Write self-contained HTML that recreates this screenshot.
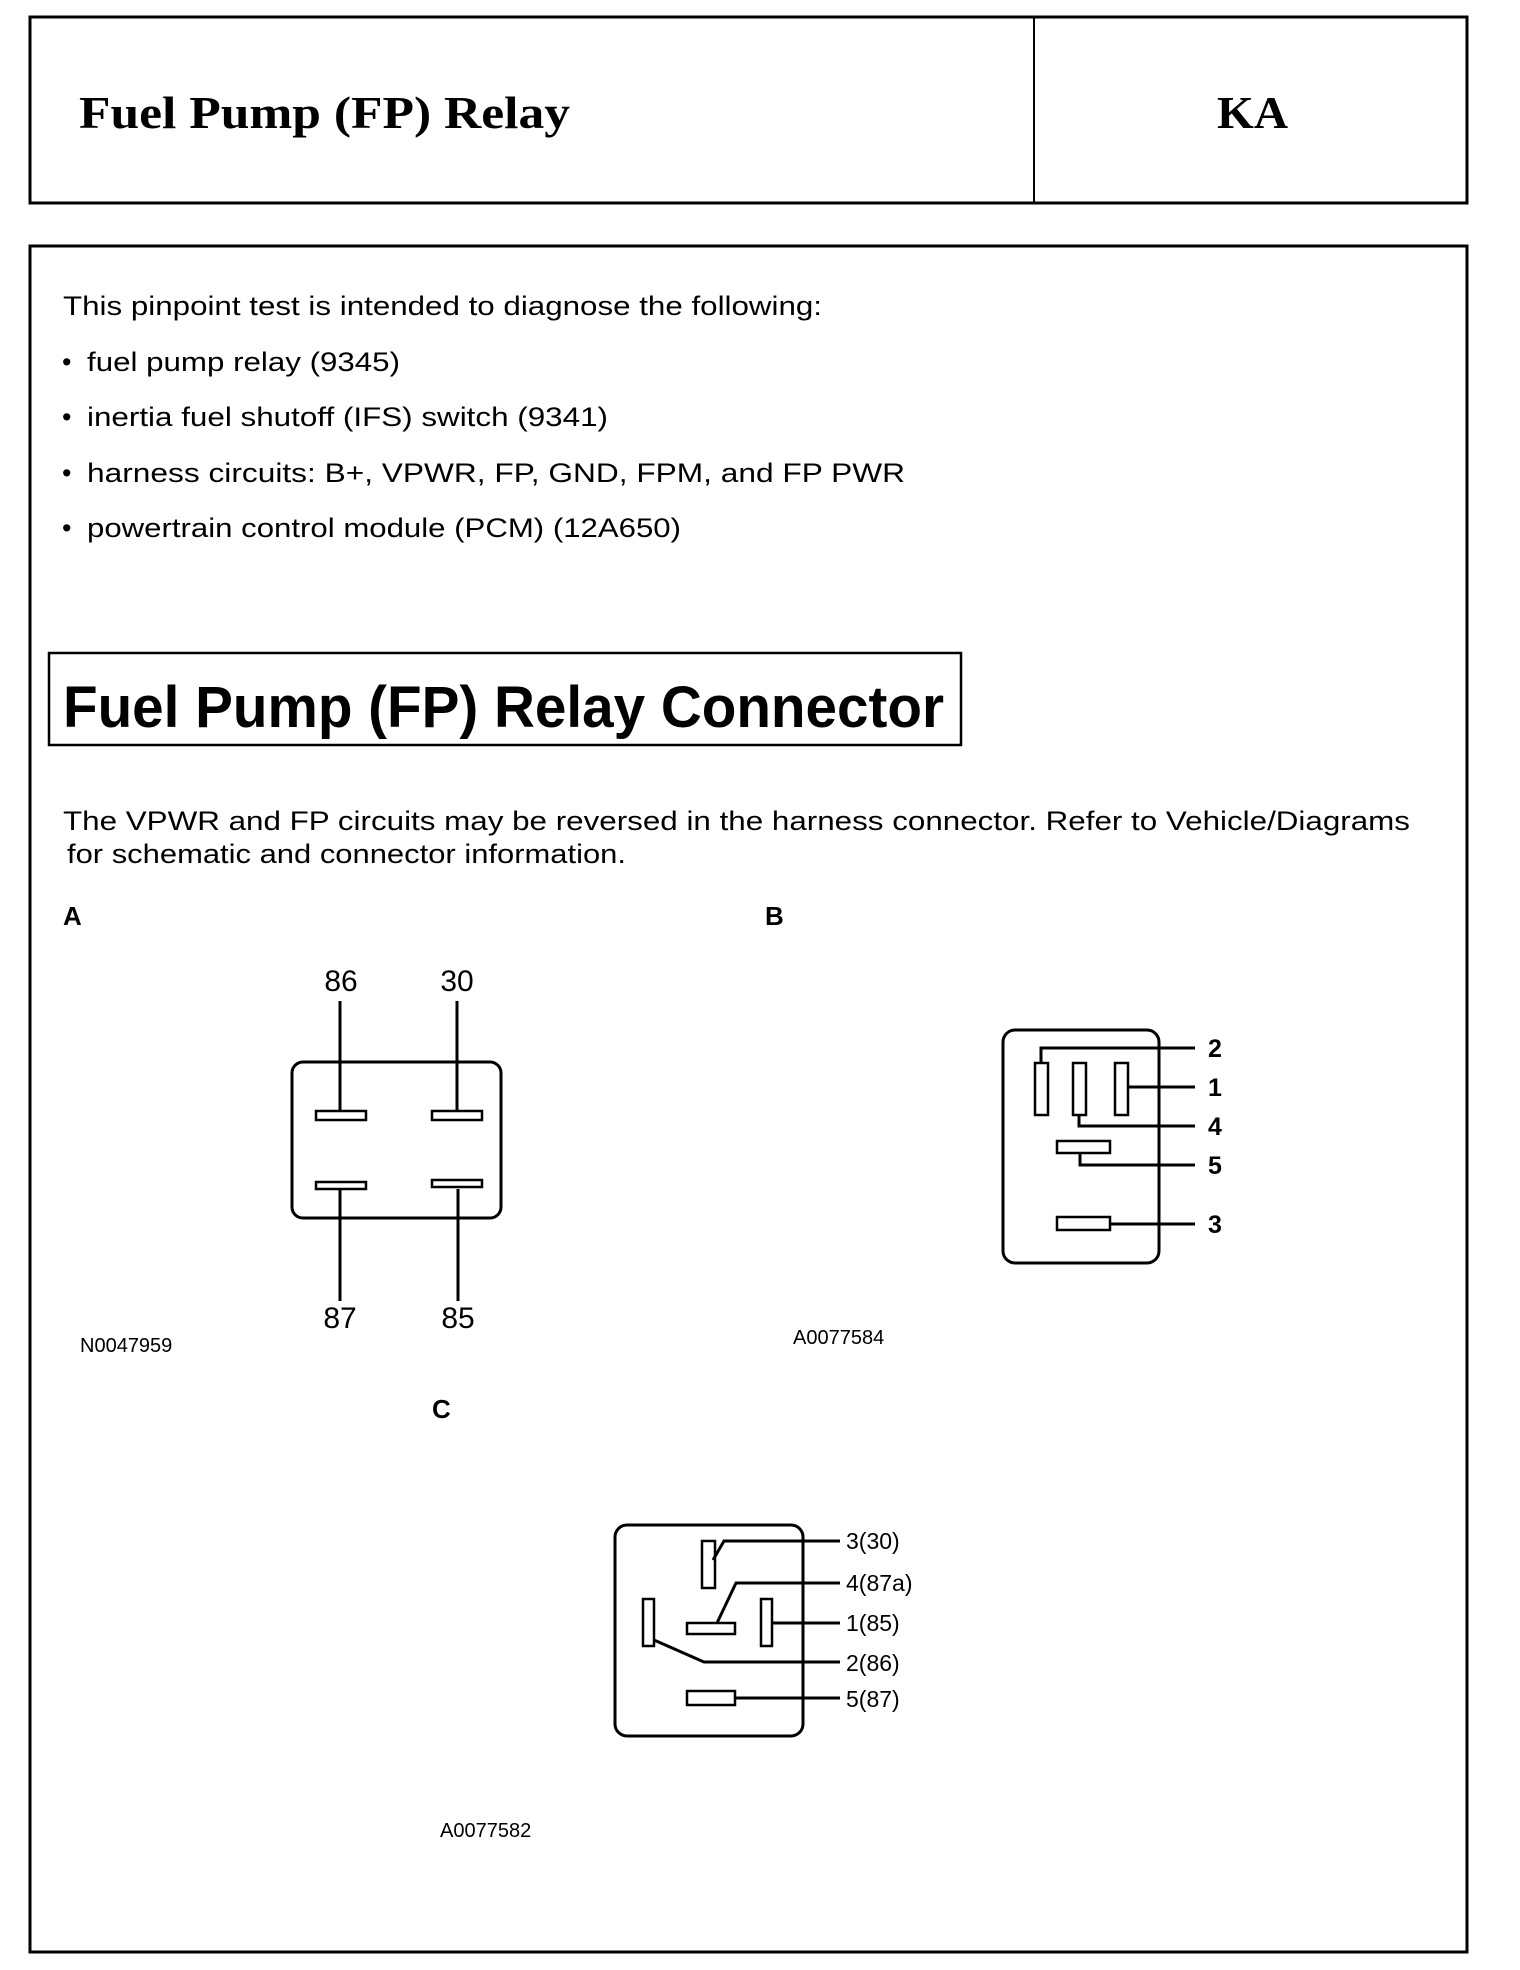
<!DOCTYPE html>
<html><head><meta charset="utf-8"><style>
html,body{margin:0;padding:0;background:#fff;}
svg{display:block;}
text{fill:#000;}
.s{font-family:"Liberation Sans",sans-serif;}
</style></head><body>
<svg width="1520" height="1970" viewBox="0 0 1520 1970" xmlns="http://www.w3.org/2000/svg">
<g fill="none" stroke="#000">
<rect x="30" y="17" width="1437" height="186" stroke-width="3"/>
<line x1="1034" y1="17" x2="1034" y2="203" stroke-width="2"/>
<rect x="30" y="246" width="1437" height="1706" stroke-width="3"/>
<rect x="49" y="653" width="912" height="92" stroke-width="2.5"/>
</g>
<text x="79" y="128" font-family="Liberation Serif,serif" font-weight="bold" font-size="46" textLength="491" lengthAdjust="spacingAndGlyphs">Fuel Pump (FP) Relay</text>
<text x="1217" y="128" font-family="Liberation Serif,serif" font-weight="bold" font-size="46" textLength="71" lengthAdjust="spacingAndGlyphs">KA</text>

<g class="s" font-size="27">
<text x="63" y="315" textLength="759" lengthAdjust="spacingAndGlyphs">This pinpoint test is intended to diagnose the following:</text>
<text x="62" y="371">•</text><text x="87" y="371" textLength="313" lengthAdjust="spacingAndGlyphs">fuel pump relay (9345)</text>
<text x="62" y="426">•</text><text x="87" y="426" textLength="521" lengthAdjust="spacingAndGlyphs">inertia fuel shutoff (IFS) switch (9341)</text>
<text x="62" y="482">•</text><text x="87" y="482" textLength="818" lengthAdjust="spacingAndGlyphs">harness circuits: B+, VPWR, FP, GND, FPM, and FP PWR</text>
<text x="62" y="537">•</text><text x="87" y="537" textLength="594" lengthAdjust="spacingAndGlyphs">powertrain control module (PCM) (12A650)</text>
</g>
<text class="s" x="63" y="727" font-size="58" font-weight="bold" textLength="881" lengthAdjust="spacingAndGlyphs">Fuel Pump (FP) Relay Connector</text>
<text class="s" x="63" y="830" font-size="27" textLength="1347" lengthAdjust="spacingAndGlyphs">The VPWR and FP circuits may be reversed in the harness connector.  Refer to Vehicle/Diagrams</text>
<text class="s" x="67" y="863" font-size="27" textLength="559" lengthAdjust="spacingAndGlyphs">for schematic and connector information.</text>
<text class="s" x="63" y="925" font-size="26" font-weight="bold">A</text>
<text class="s" x="765" y="925" font-size="26" font-weight="bold">B</text>
<text class="s" x="432" y="1418" font-size="26" font-weight="bold">C</text>

<!-- Diagram A -->
<g fill="none" stroke="#000" stroke-width="3">
<rect x="292" y="1062" width="209" height="156" rx="11"/>
<line x1="340" y1="1001" x2="340" y2="1111"/>
<line x1="457" y1="1001" x2="457" y2="1111"/>
<line x1="340" y1="1189" x2="340" y2="1301"/>
<line x1="458" y1="1189" x2="458" y2="1301"/>
<g stroke-width="2.5">
<rect x="316" y="1111" width="50" height="9"/>
<rect x="432" y="1111" width="50" height="9"/>
<rect x="316" y="1182" width="50" height="7"/>
<rect x="432" y="1180" width="50" height="7"/>
</g>
</g>
<g class="s" font-size="30" text-anchor="middle">
<text x="341" y="991">86</text><text x="457" y="991">30</text>
<text x="340" y="1328">87</text><text x="458" y="1328">85</text>
</g>
<text class="s" x="80" y="1352" font-size="20">N0047959</text>

<!-- Diagram B -->
<g fill="none" stroke="#000" stroke-width="3">
<rect x="1003" y="1030" width="156" height="233" rx="12"/>
<g stroke-width="2.5">
<rect x="1035" y="1063" width="13" height="52"/>
<rect x="1073" y="1063" width="13" height="52"/>
<rect x="1115" y="1063" width="13" height="52"/>
<rect x="1057" y="1141" width="53" height="12"/>
<rect x="1057" y="1217" width="53" height="13"/>
</g>
<polyline points="1041,1063 1041,1048 1195,1048"/>
<line x1="1128" y1="1087" x2="1195" y2="1087"/>
<polyline points="1079,1115 1079,1126 1195,1126"/>
<polyline points="1080,1153 1080,1165 1195,1165"/>
<line x1="1110" y1="1224" x2="1195" y2="1224"/>
</g>
<g class="s" font-size="25" font-weight="bold" text-anchor="middle">
<text x="1215" y="1057">2</text><text x="1215" y="1096">1</text>
<text x="1215" y="1135">4</text><text x="1215" y="1174">5</text>
<text x="1215" y="1233">3</text>
</g>
<text class="s" x="793" y="1344" font-size="20">A0077584</text>

<!-- Diagram C -->
<g fill="none" stroke="#000" stroke-width="3">
<rect x="615" y="1525" width="188" height="211" rx="12"/>
<g stroke-width="2.5">
<rect x="702" y="1541" width="13" height="47"/>
<rect x="687" y="1623" width="48" height="11"/>
<rect x="761" y="1599" width="11" height="47"/>
<rect x="643" y="1599" width="11" height="47"/>
<rect x="687" y="1691" width="48" height="14"/>
</g>
<polyline points="713,1560 724,1541 840,1541"/>
<polyline points="717,1623 736,1583 840,1583"/>
<line x1="772" y1="1623" x2="840" y2="1623"/>
<polyline points="654,1640 704,1662 840,1662"/>
<line x1="735" y1="1698" x2="840" y2="1698"/>
</g>
<g class="s" font-size="23">
<text x="846" y="1549">3(30)</text>
<text x="846" y="1591">4(87a)</text>
<text x="846" y="1631">1(85)</text>
<text x="846" y="1671">2(86)</text>
<text x="846" y="1707">5(87)</text>
</g>
<text class="s" x="440" y="1837" font-size="20">A0077582</text>
</svg>
</body></html>
